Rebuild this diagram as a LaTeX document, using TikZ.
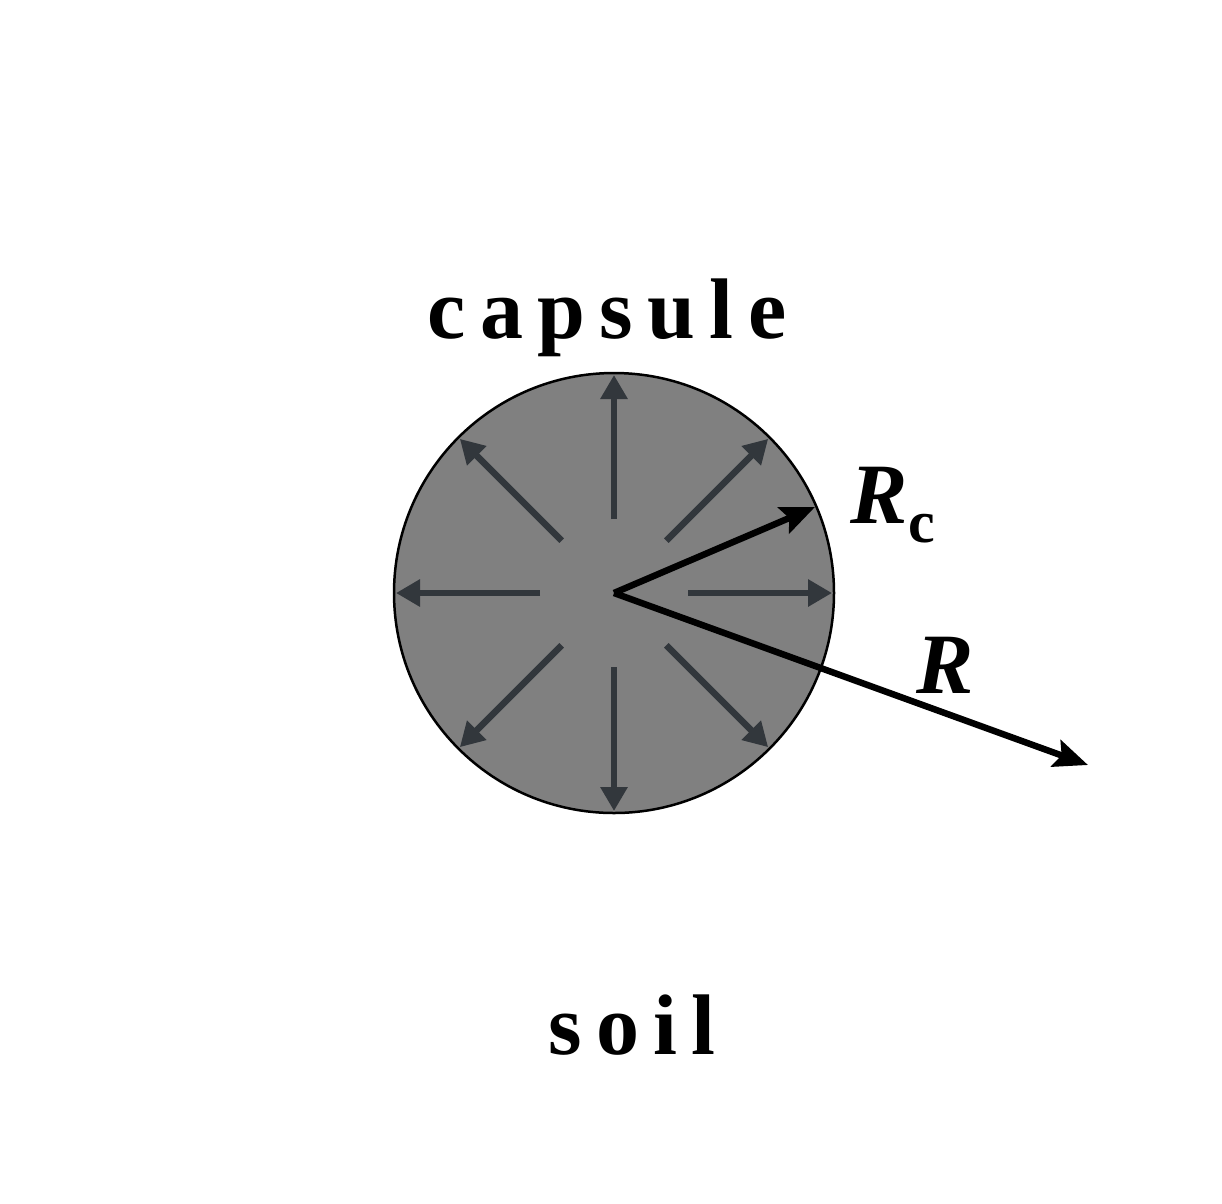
\documentclass[tikz,border=0pt]{standalone}
\usepackage{fontspec}
\setmainfont{Liberation Serif}
\usetikzlibrary{arrows.meta,calc}
\begin{document}
\begin{tikzpicture}[x=1pt,y=-1pt,
  flux/.style={line width=6.5pt, -{Triangle[length=24pt,width=26pt]}},
  radius/.style={line width=6.5pt, -{Stealth[length=34pt,width=28pt,inset=6pt]}},
  lbl/.style={font=\bfseries\fontsize{86}{90}\selectfont}]
\useasboundingbox[fill=white] (0,0) rectangle (1222,1203);
\fill[fill={rgb,255:red,183;green,210;blue,236}, draw=black, line width=2.5pt] (614,601) circle[radius=587pt];
\node[circle, minimum size=440pt, inner sep=0pt, fill={rgb,255:red,128;green,128;blue,128}, draw=black, line width=2.5pt] (cap) at (614,593) {};
\coordinate (c) at (614,593);
\foreach \a in {0,45,...,315}{
  \draw[flux, color={rgb,255:red,50;green,55;blue,60}] ($(c)+(\a:74)$) -- ($(c)+(\a:218)$);
}
\fill[black] (c) circle[radius=5pt];
\coordinate (rc) at (815,507);
\coordinate (rr) at (1088,765);
\draw[radius] (c) -- (rc);
\draw[radius] (c) -- (rr);
\coordinate (arcstart) at ($(614,601)+(-3.5:508)$);
\draw[line width=3pt] (arcstart) arc[start angle=3.5, end angle=-41.5, radius=508pt];
\node[lbl] (tcap) at (607,318) {c\,a\,p\,s\,u\,l\,e};
\node[lbl] (trc) at (893,505) {\textit{R}\textsubscript{\fontsize{60}{60}\selectfont c}};
\node[lbl] (tr) at (945,665) {\textit{R}};
\node[lbl] (tsoil) at (632,1025) {s\,o\,i\,l};
\end{tikzpicture}
\end{document}
